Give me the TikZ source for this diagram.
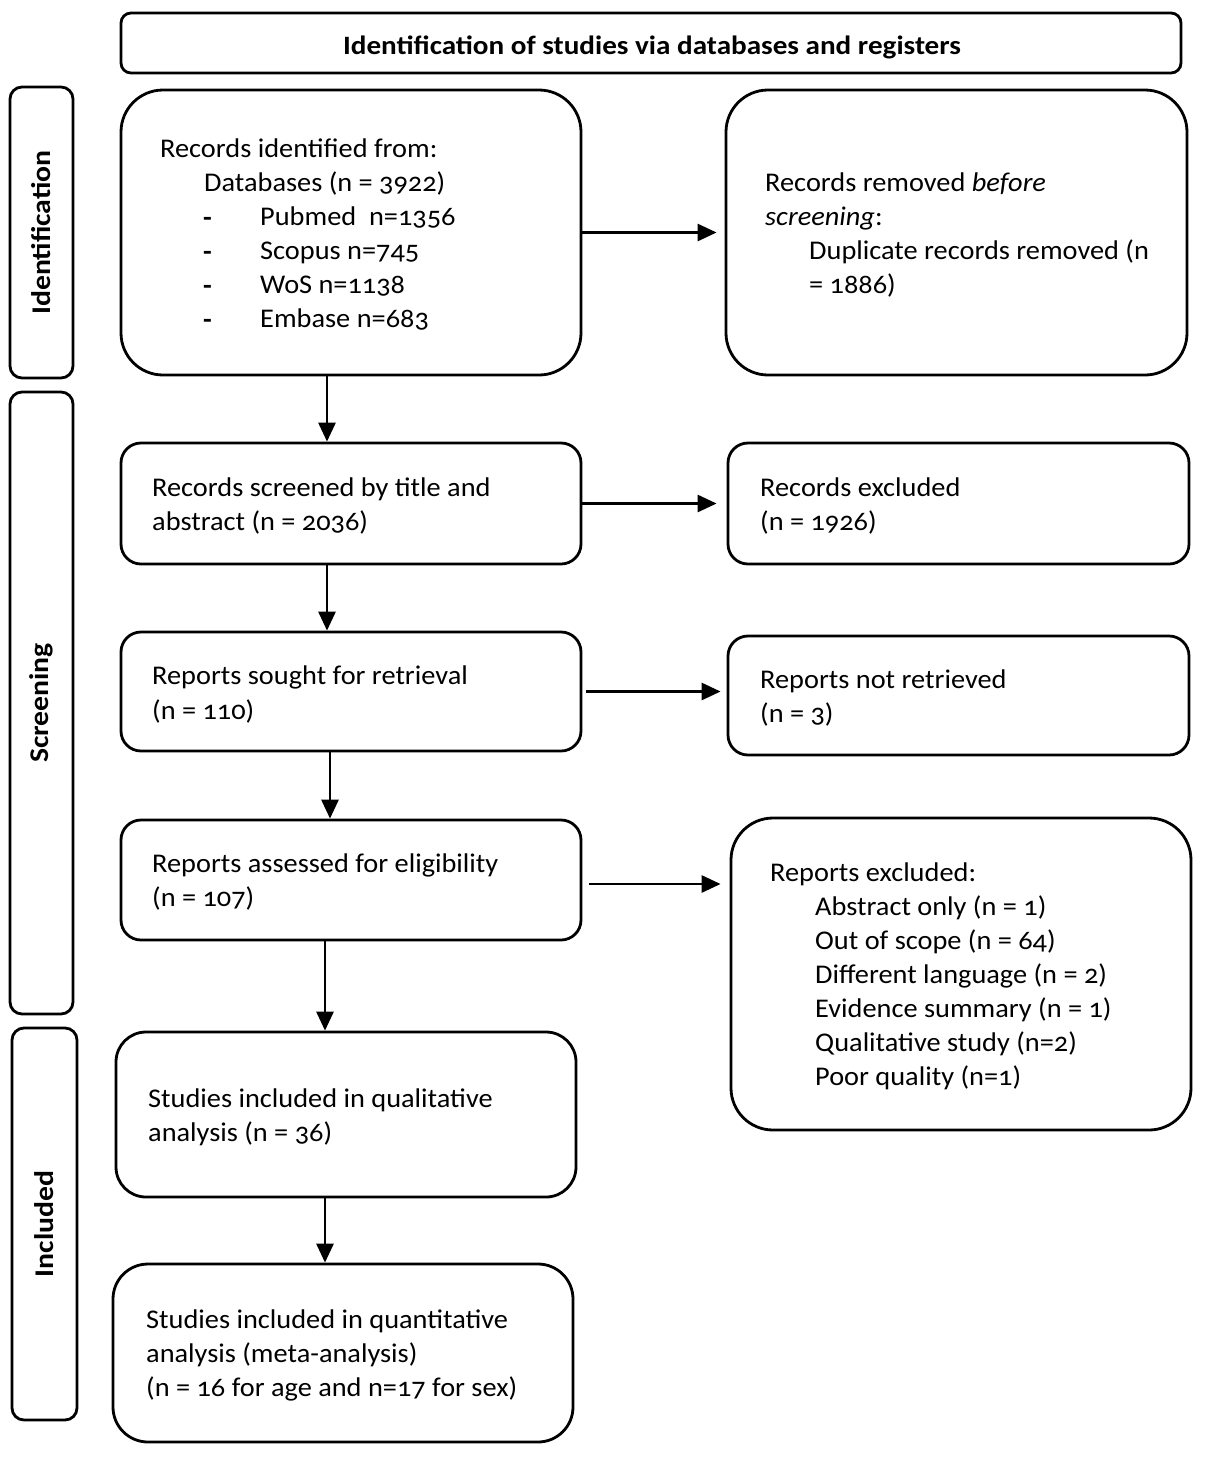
\documentclass[tikz,border=0pt]{standalone}
\usepackage{fontspec}
\setmainfont{Carlito}[Numbers=OldStyle]
\newfontfamily\bodyfont{Carlito}[Numbers=OldStyle, FakeStretch=1.05]
\newfontfamily\headfont{Carlito}[Numbers=OldStyle, FakeStretch=1.1]
\usetikzlibrary{arrows.meta}
\begin{document}
\begin{tikzpicture}[x=1pt,y=-1pt,
  box/.style={draw, line width=2.8pt, rounded corners=#1, inner sep=0pt},
  box/.default=20pt,
  txt/.style={anchor=west, inner sep=0pt, yshift=-1.5pt, text height=19pt, text depth=7pt, font=\bodyfont\fontsize{27}{34}\selectfont},
  dashmark/.style={txt, yshift=-1pt, font=\bodyfont\fontsize{27}{34}\selectfont\bfseries},
  side/.style={anchor=center, inner sep=0pt, rotate=90, font=\headfont\fontsize{27}{30}\selectfont\bfseries},
  arr/.style={line width=2.8pt, -{Triangle[length=19pt,width=17pt]}}]
\useasboundingbox (0,0) rectangle (1207,1457);
% header and phase labels
\node[box=10pt, minimum width=1060pt, minimum height=60pt] (head) at (651,43) {};
\node[inner sep=0pt, font=\headfont\fontsize{26.5}{30}\selectfont\bfseries] (headt) at (652,47) {Identification of studies via databases and registers};
\node[box=12pt, minimum width=63pt, minimum height=291pt] (pid) at (41.5,232.5) {};
\node[side] (pidt) at (pid.center) {Identification};
\node[box=12pt, minimum width=63pt, minimum height=622pt] (psc) at (41.5,703) {};
\node[side] (psct) at (psc.center) {Screening};
\node[box=12pt, minimum width=65pt, minimum height=392pt] (pin) at (44.5,1224) {};
\node[side] (pint) at (pin.center) {Included};
% boxes
\node[box=42pt, minimum width=460pt, minimum height=285pt] (b1) at (351,232.5) {};
\node[box=42pt, minimum width=461pt, minimum height=285pt] (b2) at (956.5,232.5) {};
\node[box=20pt, minimum width=460pt, minimum height=121pt] (b3) at (351,503.5) {};
\node[box=20pt, minimum width=461pt, minimum height=121pt] (b4) at (958.5,503.5) {};
\node[box=20pt, minimum width=460pt, minimum height=119pt] (b5) at (351,691.5) {};
\node[box=20pt, minimum width=461pt, minimum height=119pt] (b6) at (958.5,695.5) {};
\node[box=20pt, minimum width=460pt, minimum height=120pt] (b7) at (351,880) {};
\node[box=42pt, minimum width=460pt, minimum height=312pt] (b8) at (961,974) {};
\node[box=30pt, minimum width=460pt, minimum height=165pt] (b9) at (346,1114.5) {};
\node[box=35pt, minimum width=460pt, minimum height=178pt] (b10) at (343,1353) {};
% texts
\node[txt] (t1a) at (160,150) {Records identified from:};
\node[txt] (t1b) at (204,184) {Databases (n = 3922)};
\node[dashmark] (t1c) at (203,218) {-};
\node[txt] (t1d) at (260,218) {Pubmed\ \ n=1356};
\node[dashmark] (t1e) at (203,252) {-};
\node[txt] (t1f) at (260,252) {Scopus n=745};
\node[dashmark] (t1g) at (203,286) {-};
\node[txt] (t1h) at (260,286) {WoS n=1138};
\node[dashmark] (t1i) at (203,320) {-};
\node[txt] (t1j) at (260,320) {Embase n=683};
\node[txt] (t2a) at (765,184) {Records removed \textit{before}};
\node[txt] (t2b) at (765,218) {\textit{screening}:};
\node[txt] (t2c) at (809,252) {Duplicate records removed (n};
\node[txt] (t2d) at (809,286) {= 1886)};
\node[txt] (t3a) at (152,489) {Records screened by title and};
\node[txt] (t3b) at (152,523) {abstract (n = 2036)};
\node[txt] (t4a) at (760,489) {Records excluded};
\node[txt] (t4b) at (760,523) {(n = 1926)};
\node[txt] (t5a) at (152,677) {Reports sought for retrieval};
\node[txt] (t5b) at (152,712) {(n = 110)};
\node[txt] (t6a) at (760,681) {Reports not retrieved};
\node[txt] (t6b) at (760,715) {(n = 3)};
\node[txt] (t7a) at (152,865) {Reports assessed for eligibility};
\node[txt] (t7b) at (152,899) {(n = 107)};
\node[txt] (t8a) at (770,874) {Reports excluded:};
\node[txt] (t8b) at (815,908) {Abstract only (n = 1)};
\node[txt] (t8c) at (815,942) {Out of scope (n = 64)};
\node[txt] (t8d) at (815,976) {Different language (n = 2)};
\node[txt] (t8e) at (815,1010) {Evidence summary (n = 1)};
\node[txt] (t8f) at (815,1044) {Qualitative study (n=2)};
\node[txt] (t8g) at (815,1078) {Poor quality (n=1)};
\node[txt] (t9a) at (148,1100) {Studies included in qualitative};
\node[txt] (t9b) at (148,1134) {analysis (n = 36)};
\node[txt] (t10a) at (146,1321) {Studies included in quantitative};
\node[txt] (t10b) at (146,1355) {analysis (meta-analysis)};
\node[txt] (t10c) at (146,1389) {(n = 16 for age and n=17 for sex)};
% connectors
\coordinate (ax1) at (327,0);
\coordinate (ax2) at (330,0);
\coordinate (ax3) at (325,0);
\draw[arr] (b1.south -| ax1) -- (b3.north -| ax1);
\draw[arr] (b3.south -| ax1) -- (b5.north -| ax1);
\draw[arr] (b5.south -| ax2) -- (b7.north -| ax2);
\draw[arr] (b7.south -| ax3) -- (b9.north -| ax3);
\draw[arr] (b9.south -| ax3) -- (b10.north -| ax3);
\draw[arr, shorten >=8pt] (b1.east) -- (b2.west);
\draw[arr, shorten >=10pt] (b3.east) -- (b4.west);
\draw[arr, shorten <=4pt, shorten >=6pt] (b5.east) -- (b5.east -| b6.west);
\draw[arr, shorten <=7pt, shorten >=9pt] ([yshift=-4pt]b7.east) -- ([yshift=-4pt]b7.east -| b8.west);
\end{tikzpicture}
\end{document}
